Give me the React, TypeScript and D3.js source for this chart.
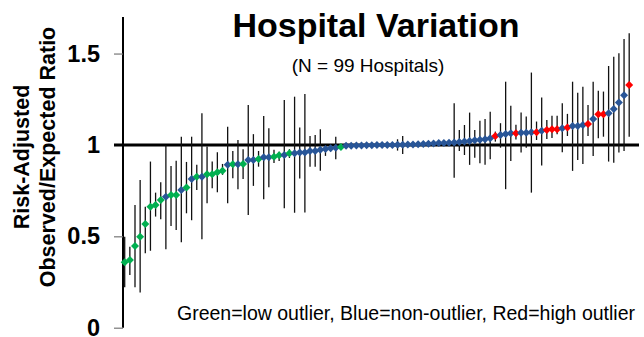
import React, { useRef, useEffect } from "react";
import * as d3 from "d3";

// hospitals ranked by risk-adjusted O/E ratio (1..99)
const hospitalRank = [
  1, 2, 3, 4, 5, 6, 7, 8, 9, 10, 11, 12, 13, 14, 15, 16, 17, 18, 19, 20,
  21, 22, 23, 24, 25, 26, 27, 28, 29, 30, 31, 32, 33, 34, 35, 36, 37, 38, 39, 40,
  41, 42, 43, 44, 45, 46, 47, 48, 49, 50, 51, 52, 53, 54, 55, 56, 57, 58, 59, 60,
  61, 62, 63, 64, 65, 66, 67, 68, 69, 70, 71, 72, 73, 74, 75, 76, 77, 78, 79, 80,
  81, 82, 83, 84, 85, 86, 87, 88, 89, 90, 91, 92, 93, 94, 95, 96, 97, 98, 99,
];

const oeRatio = [
  0.358, 0.371, 0.447, 0.498, 0.568, 0.662, 0.672, 0.699, 0.717, 0.726,
  0.726, 0.754, 0.767, 0.814, 0.826, 0.826, 0.84, 0.84, 0.851, 0.859,
  0.891, 0.894, 0.894, 0.896, 0.918, 0.918, 0.923, 0.933, 0.933, 0.936,
  0.943, 0.945, 0.955, 0.955, 0.958, 0.958, 0.967, 0.967, 0.973, 0.978,
  0.982, 0.985, 0.989, 0.995, 0.996, 0.997, 0.997, 0.998, 0.998, 0.999,
  0.999, 1.0, 1.0, 1.001, 1.001, 1.002, 1.003, 1.004, 1.005, 1.006,
  1.008, 1.01, 1.011, 1.012, 1.013, 1.016, 1.019, 1.022, 1.025, 1.028,
  1.031, 1.036, 1.049, 1.055, 1.06, 1.064, 1.064, 1.066, 1.067, 1.07,
  1.07, 1.077, 1.082, 1.086, 1.086, 1.091, 1.096, 1.104, 1.104, 1.109,
  1.115, 1.142, 1.168, 1.168, 1.174, 1.197, 1.232, 1.272, 1.328,
];

const ciLower = [
  0.221, 0.288, 0.221, 0.192, 0.407, 0.421, 0.608, 0.593, 0.429, 0.557,
  0.535, 0.467, 0.626, 0.588, 0.754, 0.484, 0.681, 0.763, 0.741, 0.836,
  0.681, 0.818, 0.758, 0.814, 0.617, 0.776, 0.881, 0.703, 0.768, 0.901,
  0.912, 0.654, 0.929, 0.629, 0.817, 0.631, 0.881, 0.881, 0.859, 0.94,
  0.965, 0.922, 0.975, 0.985, 0.988, 0.989, 0.989, 0.99, 0.99, 0.991,
  0.991, 0.992, 0.992, 0.969, 0.951, 0.992, 0.993, 0.994, 0.995, 0.996,
  0.998, 1.0, 1.001, 1.002, 0.821, 0.967, 0.945, 0.891, 0.93, 0.9,
  0.891, 0.922, 1.018, 0.985, 0.758, 0.912, 1.03, 0.958, 0.985, 0.739,
  1.027, 0.887, 1.033, 1.038, 1.059, 0.96, 1.049, 0.858, 0.918, 0.896,
  1.049, 0.94, 1.037, 1.045, 0.909, 0.903, 0.958, 0.967, 1.045,
];

const ciUpper = [
  0.498, 0.443, 0.672, 0.808, 0.662, 0.909, 0.739, 0.796, 0.998, 0.885,
  0.914, 1.045, 0.907, 1.045, 0.891, 1.174, 0.991, 0.909, 0.96, 0.896,
  1.1, 0.967, 1.027, 0.976, 1.219, 1.059, 0.967, 1.159, 1.091, 0.973,
  0.963, 1.246, 0.977, 1.264, 1.096, 1.279, 1.049, 1.055, 1.086, 0.995,
  0.998, 1.045, 0.998, 1.005, 1.004, 1.005, 1.005, 1.006, 1.006, 1.007,
  1.007, 1.008, 1.008, 1.031, 1.049, 1.012, 1.013, 1.014, 1.015, 1.016,
  1.018, 1.02, 1.021, 1.022, 1.228, 1.082, 1.109, 1.177, 1.082, 1.133,
  1.142, 1.182, 1.073, 1.119, 1.346, 1.215, 1.11, 1.177, 1.155, 1.396,
  1.128, 1.259, 1.137, 1.16, 1.16, 1.228, 1.17, 1.346, 1.286, 1.319,
  1.219, 1.346, 1.297, 1.292, 1.432, 1.483, 1.502, 1.579, 1.611,
];

// L = low outlier, N = non-outlier, H = high outlier
const outlierGroup = (
  "LLLLLLLLNLLNLNLNLLLLNLNLNNLNNLLNLNNNNNNNNNLN" +
  "NNNNNNNNNNNNNNNNNNNNNNNNNNNNHNNNHNNNHNHHHNHNNNHNHHNNNNH"
).split("");

const yTicks = [0, 0.5, 1, 1.5];
const yTickLabels = ["0", "0.5", "1", "1.5"];

const groupColor: Record<string, string> = { L: "#00b050", N: "#285597", H: "#ff0000" };

const FONT = "'Liberation Sans', Arial, Helvetica, sans-serif";

const App = () => {
  const svgRef = useRef<SVGSVGElement>(null);

  useEffect(() => {
    const svg = d3.select(svgRef.current);
    svg.selectAll("*").remove();

    const width = 644;
    const height = 337;
    svg.attr("width", width).attr("height", height);

    const x = d3.scaleLinear().domain([1, 99]).range([124.7, 629.2]);
    const y = d3.scaleLinear().domain([0, 1.7]).range([327.7, 17]);

    const data = hospitalRank.map((r, i) => ({
      rank: r,
      oe: oeRatio[i],
      lo: ciLower[i],
      hi: ciUpper[i],
      g: outlierGroup[i],
    }));

    // y axis
    const yAxis = d3
      .axisLeft(y)
      .tickValues(yTicks)
      .tickFormat((d, i) => yTickLabels[i])
      .tickSize(9)
      .tickPadding(14);

    const gy = svg.append("g").attr("transform", "translate(123,0)").call(yAxis);
    gy.select(".domain").attr("stroke", "#000").attr("stroke-width", 2).attr("d", `M0,${y(1.7)}V${y(0)}`);
    gy.selectAll(".tick line").attr("stroke", "#777").attr("stroke-width", 1.2);
    gy.selectAll(".tick text")
      .attr("font-family", FONT)
      .attr("font-weight", "bold")
      .attr("font-size", 23.5)
      .attr("fill", "#000");

    // reference line at 1
    svg
      .append("line")
      .attr("x1", 114)
      .attr("x2", 639)
      .attr("y1", y(1))
      .attr("y2", y(1))
      .attr("stroke", "#000")
      .attr("stroke-width", 3);

    // error bars
    svg
      .append("g")
      .selectAll("line")
      .data(data)
      .enter()
      .append("line")
      .attr("x1", (d) => x(d.rank))
      .attr("x2", (d) => x(d.rank))
      .attr("y1", (d) => y(d.lo))
      .attr("y2", (d) => y(d.hi))
      .attr("stroke", "#111")
      .attr("stroke-width", 1.3);

    // markers
    const diamond = d3.symbol(d3.symbolSquare, 32);
    svg
      .append("g")
      .selectAll("path")
      .data(data)
      .enter()
      .append("path")
      .attr("d", diamond)
      .attr("transform", (d) => `translate(${x(d.rank)},${y(d.oe)}) rotate(45)`)
      .attr("fill", (d) => groupColor[d.g]);

    // titles
    svg
      .append("text")
      .attr("x", 376)
      .attr("y", 37)
      .attr("text-anchor", "middle")
      .attr("font-family", FONT)
      .attr("font-weight", "bold")
      .attr("font-size", 34)
      .text("Hospital Variation");

    svg
      .append("text")
      .attr("x", 368)
      .attr("y", 72)
      .attr("text-anchor", "middle")
      .attr("font-family", FONT)
      .attr("font-size", 19)
      .text("(N = 99 Hospitals)");

    svg
      .append("text")
      .attr("x", 406)
      .attr("y", 320)
      .attr("text-anchor", "middle")
      .attr("font-family", FONT)
      .attr("font-size", 19.5)
      .text("Green=low outlier, Blue=non-outlier, Red=high outlier");

    const yTitle = svg
      .append("text")
      .attr("transform", "translate(0,157) rotate(-90)")
      .attr("text-anchor", "middle")
      .attr("font-family", FONT)
      .attr("font-weight", "bold")
      .attr("font-size", 21.5);
    yTitle.append("tspan").attr("x", 0).attr("y", 29).text("Risk-Adjusted");
    yTitle.append("tspan").attr("x", 0).attr("y", 55).text("Observed/Expected Ratio");
  }, []);

  return (
    <div style={{ position: "absolute", left: 0, top: 0 }}>
      <svg ref={svgRef} style={{ display: "block", background: "#fff" }} />
    </div>
  );
};

export default App;
